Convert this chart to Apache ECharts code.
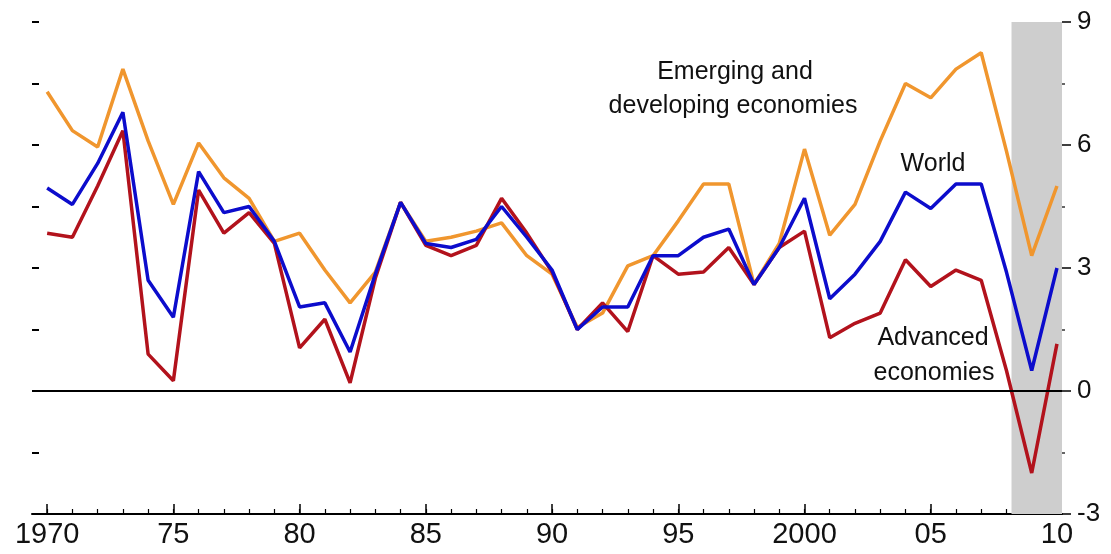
<!DOCTYPE html>
<html>
<head>
<meta charset="utf-8">
<script src="https://cdn.jsdelivr.net/npm/echarts@6/dist/echarts.min.js"></script>
<style>
html,body{margin:0;padding:0;background:#fff;}
#chart{width:1111px;height:554px;}
</style>
</head>
<body>
<div id="chart"></div>
<script>
var years = [];
for (var y = 1970; y <= 2010; y++) years.push(y);

var emerging = [7.3, 6.35, 5.95, 7.85, 6.1, 4.55, 6.05, 5.2, 4.7, 3.65,
  3.85, 2.95, 2.15, 2.9, 4.6, 3.65, 3.75, 3.9, 4.1, 3.3,
  2.85, 1.55, 1.9, 3.05, 3.3, 4.15, 5.05, 5.05, 2.6, 3.6,
  5.9, 3.8, 4.55, 6.1, 7.5, 7.15, 7.85, 8.25, 5.85, 3.3,
  5.0];
var world = [4.95, 4.55, 5.55, 6.8, 2.7, 1.8, 5.35, 4.35, 4.5, 3.65,
  2.05, 2.15, 0.95, 2.85, 4.6, 3.6, 3.5, 3.7, 4.5, 3.75,
  2.95, 1.5, 2.05, 2.05, 3.3, 3.3, 3.75, 3.95, 2.6, 3.5,
  4.7, 2.25, 2.85, 3.65, 4.85, 4.45, 5.05, 5.05, 2.9, 0.5,
  3.0];
var advanced = [3.85, 3.75, 5.0, 6.35, 0.9, 0.25, 4.9, 3.85, 4.35, 3.6,
  1.05, 1.75, 0.2, 2.75, 4.6, 3.55, 3.3, 3.55, 4.7, 3.85,
  2.9, 1.5, 2.15, 1.45, 3.3, 2.85, 2.9, 3.5, 2.6, 3.5,
  3.9, 1.3, 1.65, 1.9, 3.2, 2.55, 2.95, 2.7, 0.5, -2.0,
  1.15];

var majorYears = [1970, 1975, 1980, 1985, 1990, 1995, 2000, 2005, 2010];
var majorLabels = ['1970', '75', '80', '85', '90', '95', '2000', '05', '10'];
var shadeRange = [2008.2, 2010.2];

function pairs(arr) { return years.map(function (yr, i) { return [yr, arr[i]]; }); }

var chart = echarts.init(document.getElementById('chart'));
var FONT = '"Liberation Sans", Arial, sans-serif';

chart.setOption({
  animation: false,
  backgroundColor: '#ffffff',
  grid: { left: 32, right: 49, top: 22, bottom: 40, containLabel: false },
  xAxis: [
    {
      type: 'value', min: 1969.4, max: 2010.2, position: 'bottom',
      axisLine: { show: true, onZero: false, lineStyle: { color: '#000', width: 2 } },
      axisTick: { show: true, inside: true, length: 10, customValues: majorYears, lineStyle: { color: '#000', width: 1.5 } },
      axisLabel: {
        show: true, customValues: majorYears, margin: 6,
        fontFamily: FONT, fontSize: 29, color: '#111',
        formatter: function (v) { var i = majorYears.indexOf(Math.round(v)); return i >= 0 ? majorLabels[i] : ''; }
      },
      splitLine: { show: false }
    },
    {
      type: 'value', min: 1969.4, max: 2010.2, position: 'bottom', gridIndex: 0,
      axisLine: { show: false, onZero: false },
      axisTick: { show: true, inside: true, length: 5, customValues: years, lineStyle: { color: '#000', width: 1.2 } },
      axisLabel: { show: false },
      splitLine: { show: false }
    }
  ],
  yAxis: [
    {
      type: 'value', position: 'right', min: -3, max: 9, interval: 3,
      axisLine: { show: false },
      axisTick: { show: true, inside: false, length: 9, lineStyle: { color: '#000', width: 1.5 } },
      minorTick: { show: true, splitNumber: 2, length: 3, lineStyle: { color: '#333', width: 1.5 } },
      axisLabel: { show: true, margin: 15, fontFamily: FONT, fontSize: 26, color: '#111' },
      splitLine: { show: false }
    },
    {
      type: 'value', position: 'left', min: -3, max: 9, interval: 1.5,
      axisLine: { show: false },
      axisTick: { show: true, inside: true, length: 7, lineStyle: { color: '#000', width: 2 } },
      axisLabel: { show: false },
      splitLine: { show: false }
    }
  ],
  series: [
    {
      name: 'Emerging and developing economies', type: 'line', data: pairs(emerging),
      xAxisIndex: 0, yAxisIndex: 0, showSymbol: false, symbol: 'none', z: 3,
      lineStyle: { color: '#F0962E', width: 3.5 },
      markArea: {
        silent: true,
        itemStyle: { color: '#CECECE' },
        data: [[{ xAxis: shadeRange[0] }, { xAxis: shadeRange[1] }]]
      }
    },
    {
      name: 'Advanced economies', type: 'line', data: pairs(advanced),
      xAxisIndex: 0, yAxisIndex: 0, showSymbol: false, symbol: 'none', z: 4,
      lineStyle: { color: '#B2121C', width: 3.5 }
    },
    {
      name: 'World', type: 'line', data: pairs(world),
      xAxisIndex: 0, yAxisIndex: 0, showSymbol: false, symbol: 'none', z: 5,
      lineStyle: { color: '#0C0CCC', width: 3.5 },
      markLine: {
        silent: true, symbol: 'none', label: { show: false },
        lineStyle: { color: '#000', width: 2, type: 'solid' },
        data: [{ yAxis: 0 }]
      }
    }
  ],
  graphic: [
    { type: 'text', x: 735, y: 72, style: { text: 'Emerging and', font: '25px ' + FONT, fill: '#111', align: 'center', verticalAlign: 'middle' } },
    { type: 'text', x: 733, y: 106, style: { text: 'developing economies', font: '25px ' + FONT, fill: '#111', align: 'center', verticalAlign: 'middle' } },
    { type: 'text', x: 933, y: 164, style: { text: 'World', font: '25px ' + FONT, fill: '#111', align: 'center', verticalAlign: 'middle' } },
    { type: 'text', x: 933, y: 338, style: { text: 'Advanced', font: '25px ' + FONT, fill: '#111', align: 'center', verticalAlign: 'middle' } },
    { type: 'text', x: 934, y: 373, style: { text: 'economies', font: '25px ' + FONT, fill: '#111', align: 'center', verticalAlign: 'middle' } }
  ]
});
</script>
</body>
</html>
